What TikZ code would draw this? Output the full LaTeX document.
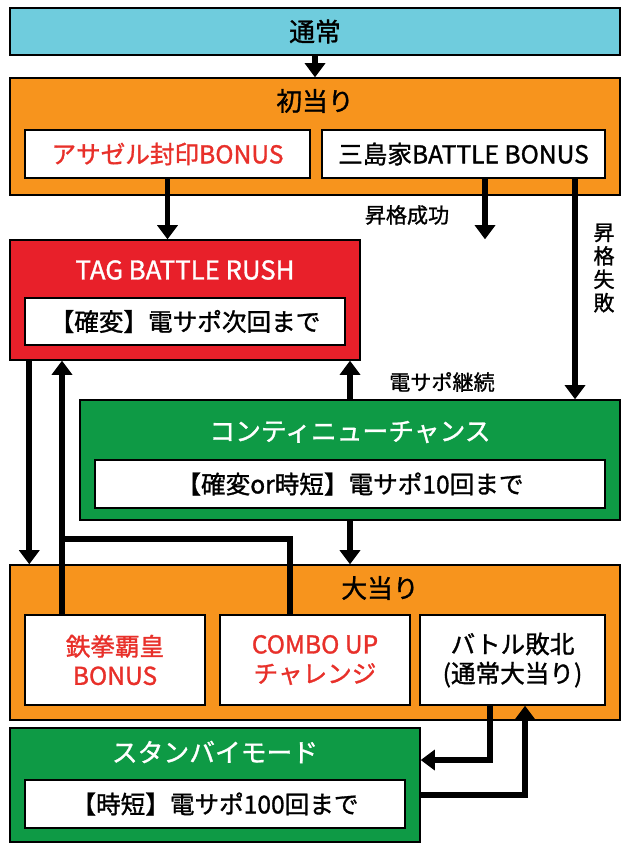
\documentclass[tikz,border=0pt]{standalone}
\usepackage{fontspec}
\setmainfont{Noto Sans CJK JP}[FakeBold=1.2,AutoFakeBold=1.2]
\usetikzlibrary{arrows.meta}
\definecolor{cTsujo}{HTML}{6FCCDD}
\definecolor{cOrange}{HTML}{F7941D}
\definecolor{cRed}{HTML}{E8202A}
\definecolor{cGreen}{HTML}{0E9A45}
\definecolor{cText}{HTML}{E8302A}
\tikzstyle{fGroup} = [rectangle, draw=black, line width=1.2pt, inner sep=0pt]
\tikzstyle{fInner} = [rectangle, draw=black, line width=1.2pt, fill=white, inner sep=0pt, text centered, font=\bfseries\fontsize{21}{25}\selectfont]
\tikzstyle{fTitle} = [font=\bfseries\fontsize{22}{26}\selectfont]
\tikzstyle{fLabel} = [font=\bfseries\fontsize{18}{20}\selectfont]
\tikzstyle{fArrow} = [line width=5pt, -{Triangle[length=12pt,width=17pt]}]
\tikzstyle{fLine} = [line width=5pt]

\begin{document}
\begin{tikzpicture}[x=0.03cm, y=-0.03cm]
    \useasboundingbox (0,0) rectangle (629,850);
    \node (tsujo) [fGroup, fill=cTsujo, minimum width=18.3cm, minimum height=1.41cm, fTitle] at (315,31.5) {通常};
    \node (hatsu) [fGroup, fill=cOrange, minimum width=18.3cm, minimum height=3.51cm] at (315,136.5) {};
    \node (hatsuT) [fTitle] at (315,101) {初当り};
    \node (azazel) [fInner, text=cText, minimum width=8.55cm, minimum height=1.44cm] at (167.5,154) {アサゼル封印BONUS};
    \node (mishima) [fInner, minimum width=8.49cm, minimum height=1.44cm] at (463.5,154) {三島家BATTLE BONUS};
    \node (tag) [fGroup, fill=cRed, minimum width=10.5cm, minimum height=3.6cm] at (185,300) {};
    \node (tagT) [fTitle, text=white] at (185,270) {TAG BATTLE RUSH};
    \node (tagIn) [fInner, minimum width=9.6cm, minimum height=1.41cm] at (185,321.5) {【確変】電サポ次回まで};
    \node (conti) [fGroup, fill=cGreen, minimum width=16.2cm, minimum height=3.6cm] at (350,460) {};
    \node (contiT) [fTitle, text=white] at (350,432) {コンティニューチャンス};
    \node (contiIn) [fInner, minimum width=15.3cm, minimum height=1.44cm] at (350,484) {【確変or時短】電サポ10回まで};
    \node (ooatari) [fGroup, fill=cOrange, minimum width=18.3cm, minimum height=4.65cm] at (315,642.5) {};
    \node (ooatariT) [fTitle] at (380,588) {大当り};
    \node (tekken) [fInner, text=cText, align=center, minimum width=5.4cm, minimum height=2.7cm] at (115,660) {鉄拳覇皇\\BONUS};
    \node (combo) [fInner, text=cText, align=center, minimum width=5.7cm, minimum height=2.7cm] at (315,660) {COMBO UP\\チャレンジ};
    \node (battle) [fInner, align=center, minimum width=5.55cm, minimum height=2.7cm] at (512.5,660) {バトル敗北\\(通常大当り)};
    \node (standby) [fGroup, fill=cGreen, minimum width=12.3cm, minimum height=3.42cm] at (215,785) {};
    \node (standbyT) [fTitle, text=white] at (215,752) {スタンバイモード};
    \node (standbyIn) [fInner, minimum width=11.4cm, minimum height=1.44cm] at (215,804) {【時短】電サポ100回まで};
    \node (seiko) [fLabel] at (407,215) {昇格成功};
    \node (shippai) [fLabel, align=center] at (604,268) {昇\\格\\失\\敗};
    \node (keizoku) [fLabel] at (442,382) {電サポ継続};

    \draw [fArrow] (tsujo) -- (hatsu);
    \draw [fArrow] (azazel.south) -- (azazel.south |- tag.north);
    \draw [fArrow] ([xshift=0.645cm]mishima.south) -- ([xshift=0.645cm]mishima.south |- tag.north);
    \draw [fArrow] ([xshift=3.345cm]mishima.south) -- ([xshift=3.345cm]mishima.south |- conti.north);
    \draw [fArrow] (conti.north) -- (conti.north |- tag.south);
    \draw [fArrow] (conti.south) -- (conti.south |- ooatari.north);
    \draw [fArrow] ([xshift=0.6cm]tag.south west) -- ([xshift=0.6cm]tag.south west |- ooatari.north);
    \draw [fArrow] ([xshift=-1.59cm]tekken.north) -- ([xshift=-1.59cm]tekken.north |- tag.south);
    \draw [fLine] ([xshift=-0.75cm]combo.north) |- ([xshift=-1.59cm,yshift=2.25cm]tekken.north);
    \draw [fArrow] ([xshift=-0.675cm]battle.south) |- ([yshift=0.75cm]standby.east);
    \draw [fArrow] ([yshift=-0.3cm]standby.east) -| ([xshift=0.375cm]battle.south);
\end{tikzpicture}
\end{document}
